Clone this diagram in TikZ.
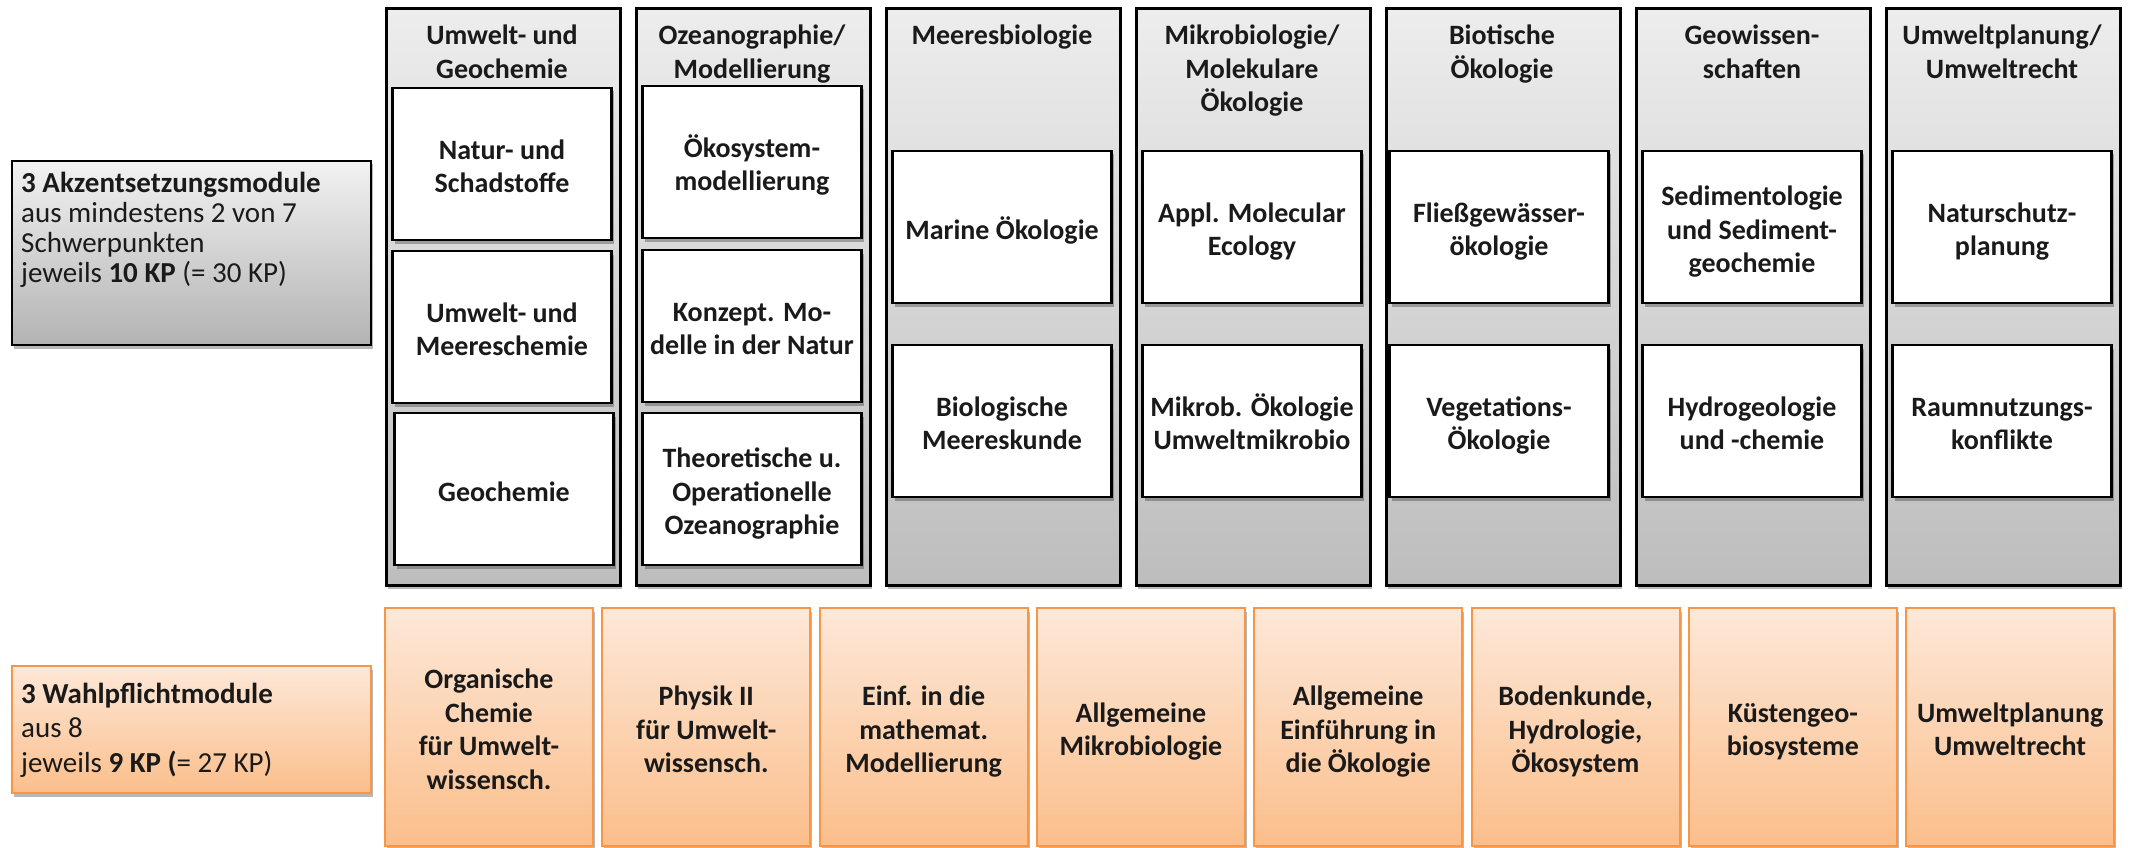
\documentclass[tikz,border=0pt]{standalone}
\usepackage{fontspec}
\setmainfont{Carlito}
\usetikzlibrary{shadows}
\definecolor{colTop}{HTML}{EDEDED}
\definecolor{colBot}{HTML}{BDBDBD}
\definecolor{lTop}{HTML}{F2F2F2}
\definecolor{lBot}{HTML}{B3B3B3}
\definecolor{oTop}{HTML}{FDE8D8}
\definecolor{oBot}{HTML}{FBBE8B}
\definecolor{oLine}{HTML}{F79646}
\definecolor{txt}{HTML}{1A1A1A}
\newcommand{\evtxt}[1]{\rule{0pt}{32pt}#1\rule[-8pt]{0pt}{8pt}}
\tikzset{
  x=1pt, y=-1pt,
  shadowed/.style={drop shadow={shadow xshift=2pt, shadow yshift=-3.5pt, opacity=0.28, fill=black}},
  colbox/.style={draw=black, line width=2.6pt, top color=colTop, bottom color=colBot,
    minimum width=234pt, minimum height=577pt, anchor=north west, inner sep=0pt, shadowed},
  hdr/.style={anchor=north, inner sep=0pt, align=center, text=txt,
    font=\fontsize{28}{33.5}\selectfont\bfseries},
  wbox/.style={draw=black, line width=2.2pt, fill=white, minimum width=219pt,
    minimum height=152pt, inner sep=0pt, align=center, text=txt,
    font=\fontsize{28}{33.5}\selectfont\bfseries, shadowed},
  obox/.style={draw=oLine, line width=2pt, top color=oTop, bottom color=oBot,
    minimum width=208pt, minimum height=238pt, inner sep=0pt, align=center, text=txt,
    font=\fontsize{28}{33.5}\selectfont\bfseries, shadowed},
  lgray/.style={draw=black, line width=2.6pt, top color=lTop, bottom color=lBot,
    minimum width=359pt, minimum height=184pt, inner sep=0pt, shadowed},
  lorange/.style={draw=oLine, line width=2pt, top color=oTop, bottom color=oBot,
    minimum width=359pt, minimum height=127pt, inner sep=0pt, shadowed},
  ltext/.style={anchor=north west, inner sep=0pt, align=left, text=txt,
    font=\fontsize{29}{30}\selectfont},
}
\begin{document}
\begin{tikzpicture}
\useasboundingbox (0,0) rectangle (2129,848);

% left description boxes
\node[lgray] (akz) at (191.5,253) {};
\node[ltext] (akztext) at (21,171) {\strut\textbf{3 Akzentsetzungsmodule}\\aus mindestens 2 von 7\\Schwerpunkten\\jeweils \textbf{10 KP} (= 30 KP)};
\node[lorange] (wahl) at (191.5,729.5) {};
\node[ltext, font=\fontsize{29}{34.5}\selectfont] (wahltext) at (21,679) {\strut\textbf{3 Wahlpflichtmodule}\\aus 8\\jeweils \textbf{9 KP (}= 27 KP)};

% columns
\node[colbox] (c1) at (385,7) {};
\node[colbox] (c2) at (635,7) {};
\node[colbox] (c3) at (885,7) {};
\node[colbox] (c4) at (1135,7) {};
\node[colbox] (c5) at (1385,7) {};
\node[colbox] (c6) at (1635,7) {};
\node[colbox] (c7) at (1885,7) {};

% headers
\node[hdr] (h1) at (502,21) {\strut Umwelt- und\\Geochemie};
\node[hdr] (h2) at (752,21) {\strut Ozeanographie/\\Modellierung};
\node[hdr] (h3) at (1002,21) {\strut Meeresbiologie};
\node[hdr] (h4) at (1252,21) {\strut Mikrobiologie/\\Molekulare\\Ökologie};
\node[hdr] (h5) at (1502,21) {\strut Biotische\\Ökologie};
\node[hdr] (h6) at (1752,21) {\strut Geowissen-\\schaften};
\node[hdr] (h7) at (2002,21) {\strut Umweltplanung/\\Umweltrecht};

% column 1
\node[wbox] (b11) at (502,164) {\evtxt{Natur- und\\Schadstoffe}};
\node[wbox] (b12) at (502,327) {\evtxt{Umwelt- und\\Meereschemie}};
\node[wbox] (b13) at (504,489) {\evtxt{Geochemie}};
% column 2
\node[wbox] (b21) at (752,162) {\evtxt{Ökosystem-\\modellierung}};
\node[wbox] (b22) at (752,326) {\evtxt{Konzept. Mo-\\delle in der Natur}};
\node[wbox] (b23) at (752,489) {\evtxt{Theoretische u.\\Operationelle\\Ozeanographie}};
% columns 3-7
\node[wbox] (b31) at (1002,227) {\evtxt{Marine Ökologie}};
\node[wbox] (b32) at (1002,421) {\evtxt{Biologische\\Meereskunde}};
\node[wbox] (b41) at (1252,227) {\evtxt{Appl. Molecular\\Ecology}};
\node[wbox] (b42) at (1252,421) {\evtxt{Mikrob. Ökologie\\Umweltmikrobio}};
\node[wbox] (b51) at (1499,227) {\evtxt{Fließgewässer-\\ökologie}};
\node[wbox] (b52) at (1499,421) {\evtxt{Vegetations-\\Ökologie}};
\node[wbox] (b61) at (1752,227) {\evtxt{Sedimentologie\\und Sediment-\\geochemie}};
\node[wbox] (b62) at (1752,421) {\evtxt{Hydrogeologie\\und -chemie}};
\node[wbox] (b71) at (2002,227) {\evtxt{Naturschutz-\\planung}};
\node[wbox] (b72) at (2002,421) {\evtxt{Raumnutzungs-\\konflikte}};

% orange row
\node[obox] (o1) at (489,727) {\evtxt{Organische\\Chemie\\für Umwelt-\\wissensch.}};
\node[obox] (o2) at (706.3,727) {\evtxt{Physik II\\für Umwelt-\\wissensch.}};
\node[obox] (o3) at (923.6,727) {\evtxt{Einf. in die\\mathemat.\\Modellierung}};
\node[obox] (o4) at (1140.9,727) {\evtxt{Allgemeine\\Mikrobiologie}};
\node[obox] (o5) at (1358.2,727) {\evtxt{Allgemeine\\Einführung in\\die Ökologie}};
\node[obox] (o6) at (1575.5,727) {\evtxt{Bodenkunde,\\Hydrologie,\\Ökosystem}};
\node[obox] (o7) at (1792.8,727) {\evtxt{Küstengeo-\\biosysteme}};
\node[obox] (o8) at (2010.1,727) {\evtxt{Umweltplanung\\Umweltrecht}};
\end{tikzpicture}
\end{document}
